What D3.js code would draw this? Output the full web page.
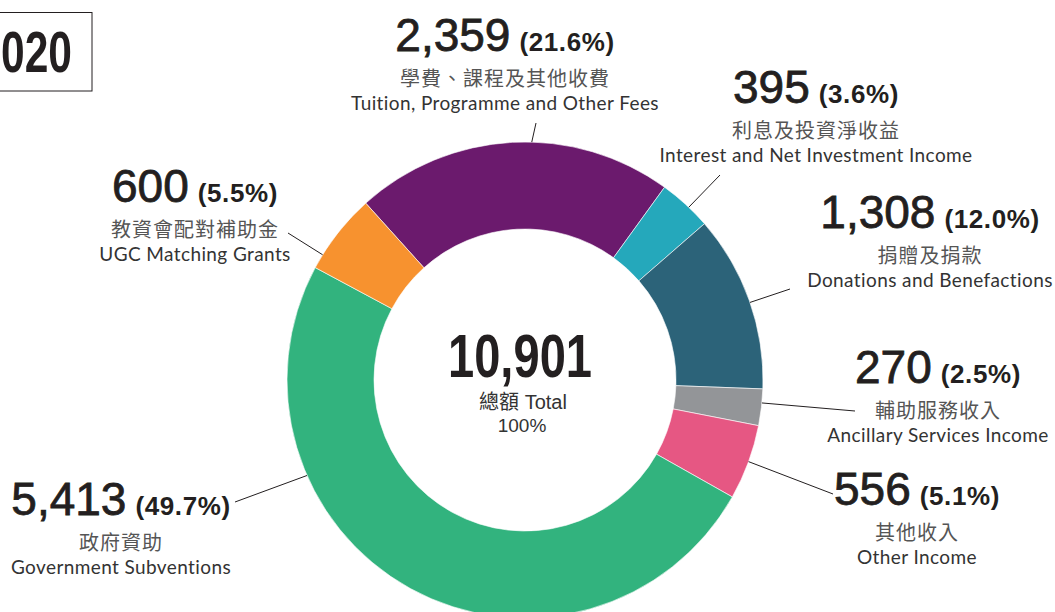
<!DOCTYPE html>
<html>
<head>
<meta charset="utf-8">
<script src="https://cdn.jsdelivr.net/npm/d3@7"></script>
<style>
  body { margin: 0; background: #fff; }
  svg { display: block; }
</style>
</head>
<body>
<svg id="chart"></svg>
<script>
// income sources, order as drawn clockwise from the top
const zhLabels = ["學費、課程及其他收費", "利息及投資淨收益", "捐贈及捐款", "輔助服務收入", "其他收入", "政府資助", "教資會配對補助金"];
const enLabels = ["Tuition, Programme and Other Fees", "Interest and Net Investment Income", "Donations and Benefactions",
                  "Ancillary Services Income", "Other Income", "Government Subventions", "UGC Matching Grants"];
const values = [2359, 395, 1308, 270, 556, 5413, 600];
const pctLabels = ["(21.6%)", "(3.6%)", "(12.0%)", "(2.5%)", "(5.1%)", "(49.7%)", "(5.5%)"];
const colors = ["#6b1a6d", "#25a8bb", "#2c6379", "#939598", "#e65783", "#32b37e", "#f7922f"];
const totalValue = 10901;
const totalPct = "100%";
const yearLabel = "020";   // only the tail of the year shows, the box runs off the left edge

// label layout: centre x, number baseline y, leader end point, where the leader leaves the slice (0..1)
const labelX = [505, 816, 930, 938, 917, 121, 195];
const labelY = [51, 103, 228, 383, 505, 515, 202];
const leaderEnd = [[536, 123], [720, 175], [790, 289], [855, 411], [833, 494], [235, 502], [288, 233]];
const leaderFrac = [0.56, 0.58, 0.51, 0.38, 0.49, 0.71, 0.18];

const width = 1055, height = 612;
const cx = 525, cy = 380;
const outerR = 238, innerR = 151;
const startDeg = -42;

const svg = d3.select("#chart")
    .attr("width", width)
    .attr("height", height);

const fmt = d3.format(",");

var pie = d3.pie()
    .sort(null)
    .value(d => d)
    .startAngle(startDeg * Math.PI / 180)
    .endAngle(startDeg * Math.PI / 180 + 2 * Math.PI);

var arc = d3.arc()
    .innerRadius(innerR)
    .outerRadius(outerR);

const arcs = pie(values);

const donut = svg.append("g")
    .attr("transform", "translate(" + cx + "," + cy + ")");

donut.selectAll("path")
    .data(arcs)
    .join("path")
    .attr("d", arc)
    .attr("fill", (d, i) => colors[i])
    .attr("stroke", "#fff")
    .attr("stroke-width", 0.6);

// leader lines
svg.append("g")
    .selectAll("line")
    .data(arcs)
    .join("line")
    .attr("x1", (d, i) => cx + outerR * Math.sin(d.startAngle + (d.endAngle - d.startAngle) * leaderFrac[i]))
    .attr("y1", (d, i) => cy - outerR * Math.cos(d.startAngle + (d.endAngle - d.startAngle) * leaderFrac[i]))
    .attr("x2", (d, i) => leaderEnd[i][0])
    .attr("y2", (d, i) => leaderEnd[i][1])
    .attr("stroke", "#231f20")
    .attr("stroke-width", 1);

// labels
const labels = svg.append("g")
    .selectAll("g")
    .data(values)
    .join("g")
    .attr("transform", (d, i) => "translate(" + labelX[i] + "," + labelY[i] + ")");

const numText = labels.append("text")
    .attr("text-anchor", "middle")
    .attr("fill", "#231f20");

numText.append("tspan")
    .attr("font-family", "'Liberation Sans', Arial, sans-serif")
    .attr("font-size", 46)
    .attr("stroke", "#231f20")
    .attr("stroke-width", 0.8)
    .text(d => fmt(d));

numText.append("tspan")
    .attr("dx", 9)
    .attr("font-family", "'Liberation Sans', Arial, sans-serif")
    .attr("font-weight", "bold")
    .attr("font-size", 26)
    .attr("letter-spacing", 0.6)
    .text((d, i) => pctLabels[i]);

labels.append("text")
    .attr("text-anchor", "middle")
    .attr("y", 35)
    .attr("font-family", "'Noto Sans CJK TC', sans-serif")
    .attr("font-size", 20)
    .attr("letter-spacing", 1)
    .attr("fill", "#555")
    .text((d, i) => zhLabels[i]);

labels.append("text")
    .attr("text-anchor", "middle")
    .attr("y", 58.5)
    .attr("font-family", "Lato, 'Open Sans', sans-serif")
    .attr("font-size", 19)
    .attr("letter-spacing", 0.4)
    .attr("fill", "#333")
    .text((d, i) => enLabels[i]);

// centre total
svg.append("text")
    .attr("x", 520)
    .attr("y", 377)
    .attr("text-anchor", "middle")
    .attr("font-family", "'Liberation Sans Narrow', 'Arial Narrow', 'Liberation Sans', sans-serif")
    .attr("font-weight", "bold")
    .attr("font-size", 61)
    .attr("textLength", 144)
    .attr("lengthAdjust", "spacingAndGlyphs")
    .attr("fill", "#231f20")
    .text(fmt(totalValue));

svg.append("text")
    .attr("x", 523)
    .attr("y", 409)
    .attr("text-anchor", "middle")
    .attr("font-family", "'Liberation Sans', 'Noto Sans CJK TC', sans-serif")
    .attr("font-size", 20)
    .attr("fill", "#333")
    .text("總額 Total");

svg.append("text")
    .attr("x", 522)
    .attr("y", 432)
    .attr("text-anchor", "middle")
    .attr("font-family", "'Liberation Sans', sans-serif")
    .attr("font-size", 19)
    .attr("fill", "#333")
    .text(totalPct);

// year box, cut by the left edge
svg.append("rect")
    .attr("x", -20)
    .attr("y", 12.5)
    .attr("width", 112)
    .attr("height", 78.5)
    .attr("fill", "none")
    .attr("stroke", "#231f20")
    .attr("stroke-width", 1);

svg.append("text")
    .attr("x", 1)
    .attr("y", 72)
    .attr("font-family", "'Liberation Sans Narrow', 'Arial Narrow', 'Liberation Sans', sans-serif")
    .attr("font-weight", "bold")
    .attr("font-size", 58)
    .attr("textLength", 71)
    .attr("lengthAdjust", "spacingAndGlyphs")
    .attr("fill", "#231f20")
    .text(yearLabel);
</script>
</body>
</html>
